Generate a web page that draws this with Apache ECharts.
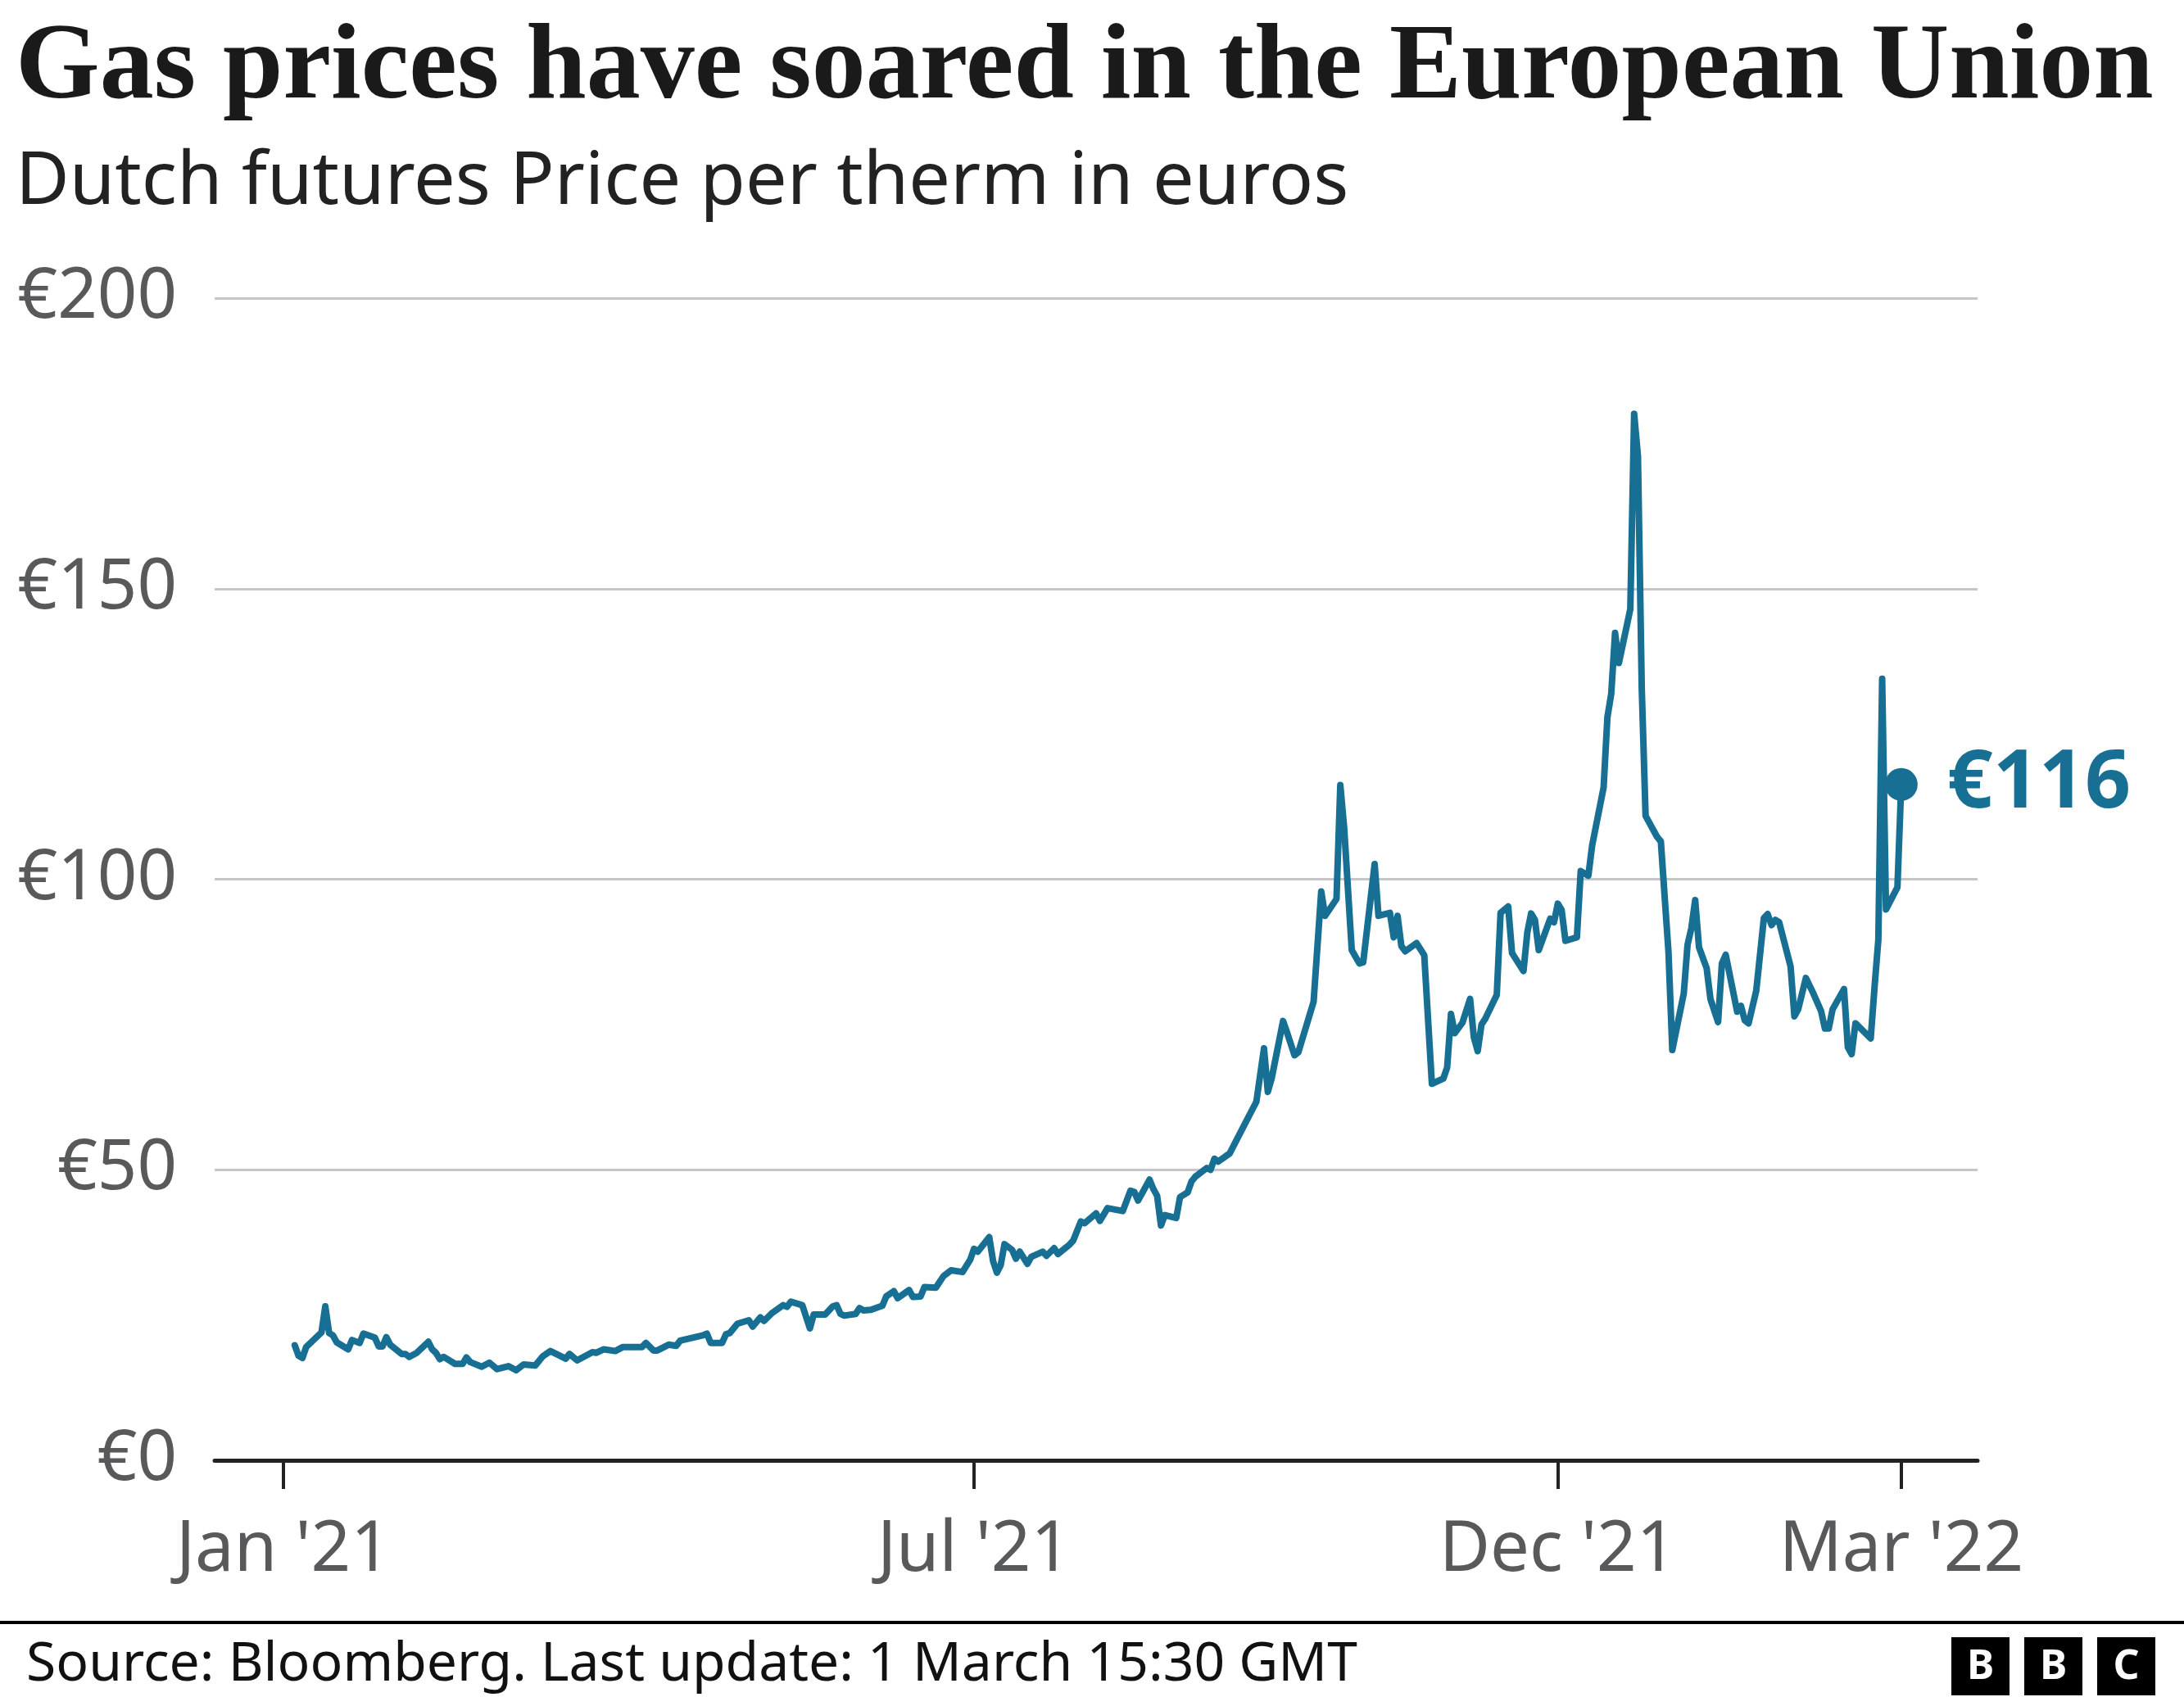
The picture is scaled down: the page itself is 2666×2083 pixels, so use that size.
<!DOCTYPE html>
<html>
<head>
<meta charset="utf-8">
<script src="https://cdn.jsdelivr.net/npm/echarts@6/dist/echarts.min.js"></script>
<style>
html,body{margin:0;padding:0;background:#fff;}
#chart{width:2666px;height:2083px;}
</style>
</head>
<body>
<div id="chart"></div>
<script>
const titleText = 'Gas prices have soared in the European Union';
const subtitleText = 'Dutch futures Price per therm in euros';
const sourceText = 'Source: Bloomberg. Last update: 1 March 15:30 GMT';

const dates = [
'2021-01-04','2021-01-05','2021-01-06','2021-01-07','2021-01-11','2021-01-12','2021-01-13','2021-01-14','2021-01-15','2021-01-18',
'2021-01-19','2021-01-21','2021-01-22','2021-01-25','2021-01-26','2021-01-27','2021-01-28','2021-01-29','2021-02-01','2021-02-02',
'2021-02-03','2021-02-05','2021-02-08','2021-02-09','2021-02-10','2021-02-11','2021-02-12','2021-02-15','2021-02-17','2021-02-18',
'2021-02-19','2021-02-22','2021-02-24','2021-02-26','2021-03-01','2021-03-03','2021-03-05','2021-03-08','2021-03-10','2021-03-12',
'2021-03-16','2021-03-17','2021-03-19','2021-03-23','2021-03-24','2021-03-26','2021-03-29','2021-03-31','2021-04-05','2021-04-06',
'2021-04-08','2021-04-09','2021-04-12','2021-04-14','2021-04-15','2021-04-21','2021-04-22','2021-04-23','2021-04-26','2021-04-27',
'2021-04-28','2021-04-30','2021-05-03','2021-05-04','2021-05-06','2021-05-07','2021-05-09','2021-05-12','2021-05-13','2021-05-14',
'2021-05-17','2021-05-19','2021-05-20','2021-05-23','2021-05-25','2021-05-26','2021-05-27','2021-05-28','2021-05-31','2021-06-01',
'2021-06-02','2021-06-04','2021-06-07','2021-06-08','2021-06-10','2021-06-11','2021-06-14','2021-06-15','2021-06-17','2021-06-18',
'2021-06-21','2021-06-23','2021-06-25','2021-06-28','2021-06-30','2021-07-01','2021-07-02','2021-07-05','2021-07-06','2021-07-07',
'2021-07-08','2021-07-09','2021-07-11','2021-07-12','2021-07-13','2021-07-15','2021-07-16','2021-07-19','2021-07-20','2021-07-22',
'2021-07-23','2021-07-26','2021-07-27','2021-07-29','2021-07-30','2021-08-02','2021-08-03','2021-08-05','2021-08-09','2021-08-11',
'2021-08-12','2021-08-13','2021-08-16','2021-08-17','2021-08-18','2021-08-19','2021-08-20','2021-08-23','2021-08-24','2021-08-26',
'2021-08-27','2021-08-28','2021-08-31','2021-09-01','2021-09-02','2021-09-03','2021-09-06','2021-09-10','2021-09-13','2021-09-15',
'2021-09-16','2021-09-17','2021-09-20','2021-09-21','2021-09-23','2021-09-24','2021-09-28','2021-09-30','2021-10-01','2021-10-04',
'2021-10-05','2021-10-06','2021-10-08','2021-10-10','2021-10-11','2021-10-14','2021-10-15','2021-10-18','2021-10-19','2021-10-20',
'2021-10-21','2021-10-22','2021-10-25','2021-10-27','2021-10-29','2021-11-01','2021-11-02','2021-11-03','2021-11-04','2021-11-06',
'2021-11-08','2021-11-09','2021-11-10','2021-11-11','2021-11-12','2021-11-15','2021-11-16','2021-11-18','2021-11-19','2021-11-22',
'2021-11-23','2021-11-24','2021-11-25','2021-11-26','2021-11-29','2021-11-30','2021-12-01','2021-12-02','2021-12-03','2021-12-06',
'2021-12-07','2021-12-09','2021-12-10','2021-12-13','2021-12-14','2021-12-15','2021-12-16','2021-12-17','2021-12-20','2021-12-21',
'2021-12-22','2021-12-23','2021-12-24','2021-12-27','2021-12-28','2021-12-30','2021-12-31','2022-01-03','2022-01-04','2022-01-05',
'2022-01-06','2022-01-07','2022-01-09','2022-01-10','2022-01-12','2022-01-13','2022-01-14','2022-01-17','2022-01-18','2022-01-19',
'2022-01-20','2022-01-22','2022-01-24','2022-01-25','2022-01-26','2022-01-27','2022-01-28','2022-01-31','2022-02-01','2022-02-02',
'2022-02-04','2022-02-06','2022-02-08','2022-02-09','2022-02-10','2022-02-11','2022-02-14','2022-02-15','2022-02-16','2022-02-17',
'2022-02-21','2022-02-22','2022-02-23','2022-02-24','2022-02-25','2022-02-28','2022-03-01'
];

const prices = [
19.8,18.0,17.6,19.5,22.0,26.5,21.9,21.5,20.3,19.1,
20.7,20.2,21.8,21.1,19.6,19.6,21.2,19.9,18.3,18.3,
17.8,18.5,20.4,19.1,18.5,17.4,17.8,16.6,16.6,17.7,
16.9,16.1,16.8,15.7,16.2,15.5,16.5,16.3,17.9,18.8,
17.5,18.3,17.2,18.6,18.5,19.1,18.8,19.5,19.5,20.2,
18.9,18.9,19.9,19.7,20.6,21.5,21.8,20.2,20.2,21.7,
21.9,23.5,24.1,23.0,24.6,24.0,25.3,26.7,26.4,27.3,
26.7,22.7,25.1,25.1,26.5,26.7,25.2,24.9,25.2,26.2,
25.8,25.9,26.6,28.2,29.1,27.9,29.3,28.1,28.2,29.8,
29.7,31.7,32.7,32.4,34.5,36.4,35.9,38.4,34.3,32.3,
33.6,37.2,36.2,34.7,35.9,33.8,35.0,35.9,35.2,36.5,
35.5,37.1,37.8,41.1,40.8,42.5,41.2,43.4,42.9,46.4,
46.2,44.7,48.3,46.7,45.5,40.4,42.2,41.7,45.3,46.1,
48.0,48.8,50.3,50.0,51.9,51.4,52.8,57.9,61.7,70.9,
63.4,65.7,75.6,73.7,69.7,70.2,78.9,97.9,93.7,96.6,
116.2,108.9,87.8,85.5,85.7,102.6,93.7,94.2,90.0,93.7,
88.5,87.6,89.0,86.9,64.8,65.7,67.6,76.8,73.5,75.3,
79.4,72.8,70.4,75.0,76.0,80.1,94.2,95.3,87.3,84.2,
90.8,94.1,93.0,87.8,93.2,92.6,95.8,94.7,89.4,90.0,
101.4,100.6,105.8,115.8,127.9,131.9,142.4,137.2,146.5,180.1,
172.8,132.8,110.9,107.3,106.5,87.5,70.6,80.3,88.7,91.6,
96.4,88.3,84.7,79.4,75.4,85.5,87.0,77.2,78.2,75.7,
75.2,80.8,93.3,94.0,92.1,93.0,92.6,85.0,76.4,77.6,
83.0,80.3,77.3,74.3,74.3,77.6,81.1,71.1,69.9,75.2,
72.6,81.4,89.6,134.5,94.8,98.6,116.3
];

const tickDates = ['2021-01-01','2021-07-01','2021-12-01','2022-03-01'];
const tickLabels = ["Jan '21", "Jul '21", "Dec '21", "Mar '22"];
const yTicks = [0, 50, 100, 150, 200];
const xRange = ['2020-12-14', '2022-03-21'];

function ts(s) {
  const p = s.split('-').map(Number);
  return Date.UTC(p[0], p[1] - 1, p[2]);
}

const lineColor = '#176f93';
const greyText = '#58595b';
const tickTs = tickDates.map(ts);
const seriesData = dates.map((d, i) => [ts(d), prices[i]]);
const last = seriesData[seriesData.length - 1];

const chart = echarts.init(document.getElementById('chart'), null, {renderer: 'canvas'});

const option = {
  animation: false,
  backgroundColor: '#ffffff',
  title: [
    {
      text: titleText, left: 14, top: 14,
      textStyle: {fontFamily: 'Liberation Serif', fontWeight: 'bold', fontSize: 132, color: '#1a1a1a'}
    },
    {
      text: subtitleText, left: 14, top: 173,
      textStyle: {fontFamily: 'Noto Sans', fontWeight: 'normal', fontSize: 90, color: '#222222'}
    },
    {
      text: sourceText, left: 27, top: 1995,
      textStyle: {fontFamily: 'Noto Sans', fontWeight: 'normal', fontSize: 66, color: '#111111'}
    }
  ],
  grid: {left: 262, right: 252, top: 364, bottom: 300, containLabel: false},
  xAxis: {
    type: 'value',
    min: ts(xRange[0]),
    max: ts(xRange[1]),
    axisLine: {show: true, onZero: false, lineStyle: {color: '#222222', width: 5}},
    axisTick: {show: true, customValues: tickTs, length: 35, lineStyle: {color: '#222222', width: 4}},
    axisLabel: {
      show: true,
      customValues: tickTs,
      formatter: function (v) {
        let best = 0, bd = Infinity;
        tickTs.forEach((t, i) => { const d = Math.abs(t - v); if (d < bd) { bd = d; best = i; } });
        return tickLabels[best];
      },
      fontFamily: 'Noto Sans', fontSize: 85, color: greyText, margin: 68
    },
    splitLine: {show: false}
  },
  yAxis: {
    type: 'value',
    min: yTicks[0], max: yTicks[yTicks.length - 1], interval: 50,
    axisLine: {show: false},
    axisTick: {show: false},
    axisLabel: {
      formatter: v => '€' + v,
      fontFamily: 'Noto Sans', fontSize: 85, color: greyText, margin: 46
    },
    splitLine: {show: true, lineStyle: {color: '#c6c6c6', width: 3}}
  },
  series: [
    {
      type: 'line',
      data: seriesData,
      showSymbol: false,
      symbol: 'none',
      lineStyle: {color: lineColor, width: 8, join: 'round', cap: 'round'},
      z: 3
    },
    {
      type: 'scatter',
      data: [last],
      symbol: 'circle',
      symbolSize: 40,
      itemStyle: {color: lineColor, opacity: 1},
      label: {
        show: true, position: 'right', distance: 36,
        formatter: p => '€' + Math.round(p.value[1]),
        fontFamily: 'Noto Sans', fontWeight: 'bold', fontSize: 98, color: lineColor, opacity: 1
      },
      emphasis: {disabled: true},
      z: 4
    }
  ],
  graphic: [
    {type: 'rect', shape: {x: 0, y: 1979, width: 2666, height: 4}, style: {fill: '#000000'}},
    {type: 'rect', shape: {x: 2382, y: 1999, width: 71, height: 71}, style: {fill: '#000000'}},
    {type: 'rect', shape: {x: 2471, y: 1999, width: 71, height: 71}, style: {fill: '#000000'}},
    {type: 'rect', shape: {x: 2560, y: 1999, width: 71, height: 71}, style: {fill: '#000000'}},
    {type: 'text', x: 2417.5, y: 2036, style: {text: 'B', fill: '#ffffff', font: 'bold 50px "Noto Sans"', textAlign: 'center', textVerticalAlign: 'middle', align: 'center', verticalAlign: 'middle'}},
    {type: 'text', x: 2506.5, y: 2036, style: {text: 'B', fill: '#ffffff', font: 'bold 50px "Noto Sans"', textAlign: 'center', textVerticalAlign: 'middle', align: 'center', verticalAlign: 'middle'}},
    {type: 'text', x: 2595.5, y: 2036, style: {text: 'C', fill: '#ffffff', font: 'bold 50px "Noto Sans"', textAlign: 'center', textVerticalAlign: 'middle', align: 'center', verticalAlign: 'middle'}}
  ]
};

chart.setOption(option);
</script>
</body>
</html>
